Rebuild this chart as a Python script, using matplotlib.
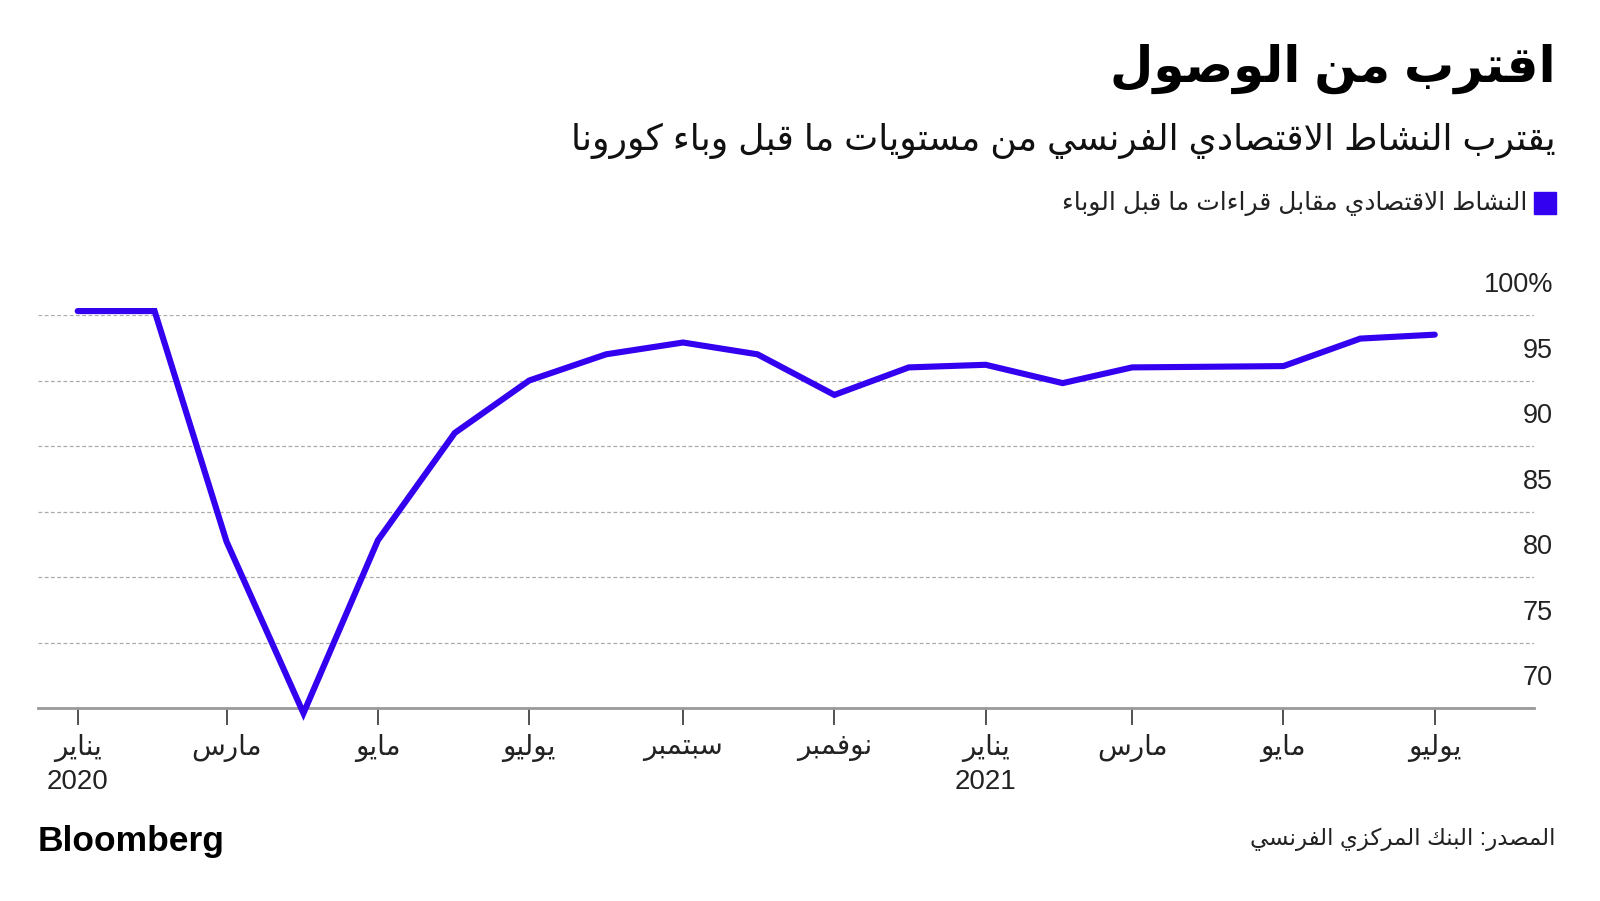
import matplotlib
matplotlib.use("Agg")
import matplotlib.pyplot as plt
import matplotlib.dates as mdates
import pandas as pd

plt.rcParams["font.family"] = ["Liberation Sans", "DejaVu Sans"]

# data (share of pre-pandemic activity, %)
months = pd.to_datetime([
    "2020-01-01", "2020-02-01", "2020-03-01", "2020-04-01", "2020-05-01",
    "2020-06-01", "2020-07-01", "2020-08-01", "2020-09-01", "2020-10-01",
    "2020-11-01", "2020-12-01", "2021-01-01", "2021-02-01", "2021-03-01",
    "2021-04-01", "2021-05-01", "2021-06-01", "2021-07-01",
])
activity = [100.3, 100.3, 82.7, 69.6, 82.8, 91.0, 95.0, 97.0, 97.9, 97.0,
            93.9, 96.0, 96.2, 94.8, 96.0, 96.05, 96.1, 98.2, 98.5]

tick_dates = pd.to_datetime([
    "2020-01-01", "2020-03-01", "2020-05-01", "2020-07-01", "2020-09-01",
    "2020-11-01", "2021-01-01", "2021-03-01", "2021-05-01", "2021-07-01",
])
tick_months = ["يناير", "مارس", "مايو", "يوليو", "سبتمبر",
               "نوفمبر", "يناير", "مارس", "مايو", "يوليو"]
tick_years = ["2020", "", "", "", "", "", "2021", "", "", ""]

y_ticks = [70, 75, 80, 85, 90, 95, 100]
y_labels = ["70", "75", "80", "85", "90", "95", "100%"]

title = "اقترب من الوصول"
subtitle = "يقترب النشاط الاقتصادي الفرنسي من مستويات ما قبل وباء كورونا"
legend_label = "النشاط الاقتصادي مقابل قراءات ما قبل الوباء"
source = "المصدر: البنك المركزي الفرنسي"

LINE_COLOR = "#3300F0"

# minimal arabic shaping: presentation forms + visual (reversed) order
# (isolated, final, initial, medial) / (isolated, final) / (isolated,)
FORMS = {
    "ء": ("\uFE80",),
    "ا": ("\uFE8D", "\uFE8E"),
    "ب": ("\uFE8F", "\uFE90", "\uFE91", "\uFE92"),
    "ت": ("\uFE95", "\uFE96", "\uFE97", "\uFE98"),
    "د": ("\uFEA9", "\uFEAA"),
    "ر": ("\uFEAD", "\uFEAE"),
    "ز": ("\uFEAF", "\uFEB0"),
    "س": ("\uFEB1", "\uFEB2", "\uFEB3", "\uFEB4"),
    "ش": ("\uFEB5", "\uFEB6", "\uFEB7", "\uFEB8"),
    "ص": ("\uFEB9", "\uFEBA", "\uFEBB", "\uFEBC"),
    "ط": ("\uFEC1", "\uFEC2", "\uFEC3", "\uFEC4"),
    "ف": ("\uFED1", "\uFED2", "\uFED3", "\uFED4"),
    "ق": ("\uFED5", "\uFED6", "\uFED7", "\uFED8"),
    "ك": ("\uFED9", "\uFEDA", "\uFEDB", "\uFEDC"),
    "ل": ("\uFEDD", "\uFEDE", "\uFEDF", "\uFEE0"),
    "م": ("\uFEE1", "\uFEE2", "\uFEE3", "\uFEE4"),
    "ن": ("\uFEE5", "\uFEE6", "\uFEE7", "\uFEE8"),
    "ه": ("\uFEE9", "\uFEEA", "\uFEEB", "\uFEEC"),
    "و": ("\uFEED", "\uFEEE"),
    "ي": ("\uFEF1", "\uFEF2", "\uFEF3", "\uFEF4"),
}


def shape(text):
    out = []
    i = 0
    n = len(text)
    while i < n:
        c = text[i]
        if c not in FORMS:
            out.append(c)
            i += 1
            continue
        prev = text[i - 1] if i > 0 else ""
        joins_prev = prev in FORMS and len(FORMS[prev]) == 4
        if c == "ل" and i + 1 < n and text[i + 1] == "ا":
            out.append("\uFEFC" if joins_prev else "\uFEFB")
            i += 2
            continue
        nxt = text[i + 1] if i + 1 < n else ""
        joins_next = len(FORMS[c]) == 4 and nxt in FORMS and len(FORMS[nxt]) > 1
        f = FORMS[c]
        if joins_prev and joins_next:
            out.append(f[3])
        elif joins_prev:
            out.append(f[1])
        elif joins_next:
            out.append(f[2])
        else:
            out.append(f[0])
        i += 1
    return "".join(out)[::-1]


W, H = 1600, 901
fig = plt.figure(figsize=(W / 100, H / 100), dpi=100)

# axes placed in pixel terms
ax_left, ax_right = 38, 1534
y70, y100 = 708, 315
ax = fig.add_axes([ax_left / W, (H - y70) / H, (ax_right - ax_left) / W, (y70 - y100) / H])

ax.plot(months, activity, color=LINE_COLOR, lw=4.4, solid_joinstyle="miter",
        solid_capstyle="round", clip_on=False, zorder=3)

ax.set_ylim(70, 100)
ax.set_xlim(pd.Timestamp("2019-12-16"), pd.Timestamp("2021-08-10"))

for v in y_ticks[1:]:
    ax.axhline(v, color="#AAAAAA", lw=0.9, ls=(0, (3, 2)), zorder=1)

for s in ["top", "right", "left"]:
    ax.spines[s].set_visible(False)
ax.spines["bottom"].set_color("#999999")
ax.spines["bottom"].set_linewidth(2)

ax.set_yticks([])
ax.set_xticks(tick_dates)
ax.set_xticklabels([])
ax.tick_params(axis="x", length=12, width=1.2, color="#333333")

# x labels
for d, m, yr in zip(tick_dates, tick_months, tick_years):
    xf = ax.transData.transform((mdates.date2num(d), 70))[0] / W
    fig.text(xf, 1 - 748 / H, shape(m), ha="center", va="center",
             fontsize=20, color="#222222")
    if yr:
        fig.text(xf, 1 - 782 / H, yr, ha="center", va="center",
                 fontsize=20, color="#222222")

# y labels, right aligned above the grid lines
for v, lab in zip(y_ticks, y_labels):
    yp = ax.transData.transform((0, v))[1] / H
    fig.text(1553 / W, yp + 30 / H, lab, ha="right", va="center",
             fontsize=19.5, color="#222222")

# header
fig.text(1556 / W, 1 - 69 / H, shape(title), ha="right", va="center",
         fontsize=36, fontweight="bold", color="#000000")
fig.text(1556 / W, 1 - 141 / H, shape(subtitle), ha="right", va="center",
         fontsize=26, color="#111111")

# legend
fig.patches.append(plt.Rectangle((1534 / W, 1 - 214 / H), 22 / W, 22 / H,
                                 transform=fig.transFigure, color=LINE_COLOR))
fig.text(1527 / W, 1 - 203 / H, shape(legend_label), ha="right", va="center",
         fontsize=18, color="#222222")

# footer
fig.text(38 / W, 1 - 842 / H, "Bloomberg", ha="left", va="center",
         fontsize=25.5, fontweight="bold", color="#000000")
fig.text(1556 / W, 1 - 839 / H, shape(source), ha="right", va="center",
         fontsize=16.5, color="#222222")

fig.savefig("out.png", dpi=100, facecolor="white")
